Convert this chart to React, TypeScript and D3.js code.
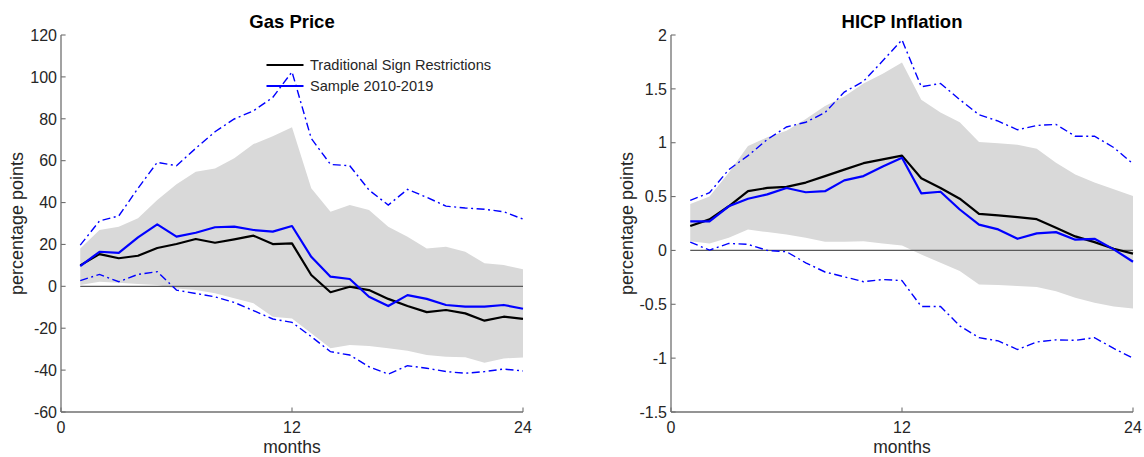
import React from 'react';
import { scaleLinear, line, area } from 'd3';

// horizon, months after the shock
const months = [1, 2, 3, 4, 5, 6, 7, 8, 9, 10, 11, 12, 13, 14, 15, 16, 17, 18, 19, 20, 21, 22, 23, 24];

const gasTicksY = [-60, -40, -20, 0, 20, 40, 60, 80, 100, 120];
const hicpTicksY = [-1.5, -1, -0.5, 0, 0.5, 1, 1.5, 2];
const monthTicks = [0, 12, 24];

const legendLabels = ['Traditional Sign Restrictions', 'Sample 2010-2019'];

// Gas price
const gasTraditional = [10, 15.4, 13.4, 14.6, 18.3, 20.2, 22.6, 20.8, 22.4, 24.2, 20.2, 20.5, 5.4, -2.8, -0.2, -1.8, -6, -9.4, -12.3, -11.3, -12.9, -16.4, -14.5, -15.5];
const gasSample = [9.7, 16.5, 16.0, 23.4, 29.6, 23.7, 25.6, 28.2, 28.5, 26.9, 26.1, 28.8, 14.1, 4.6, 3.5, -5, -9.4, -4.2, -6, -8.9, -9.7, -9.7, -8.9, -10.7];
const gasSampleUpper = [19.7, 31.2, 33.6, 46.8, 59.2, 57.6, 65.9, 73.8, 79.9, 83.8, 90.2, 102.4, 70.6, 58.2, 57.6, 46, 38.8, 46.3, 42.5, 38.3, 37.4, 36.8, 35.6, 32.1];
const gasSampleLower = [2.7, 5.7, 2.2, 5.7, 7, -1.8, -3.4, -5, -7.7, -11.6, -15.6, -17.2, -24, -31.2, -32.8, -38.4, -41.9, -37.9, -39.1, -40.7, -41.5, -40.7, -39.5, -40.4];
const gasBandUpper = [18.1, 26.9, 28.5, 32.5, 41.2, 48.7, 54.7, 56.3, 61.1, 67.9, 71.7, 75.9, 46.8, 35.6, 38.8, 36.4, 28.4, 23.7, 18.1, 18.9, 16.5, 11, 10.2, 8.1];
const gasBandLower = [0.6, 2.2, 1.7, 1.1, 0.6, -1, -1.8, -3.3, -5.7, -8.1, -14.5, -15.3, -22.4, -29.6, -28, -28.5, -29.6, -30.7, -32.8, -33.6, -33.9, -36.5, -34.4, -34];

// HICP inflation
const hicpTraditional = [0.226, 0.288, 0.41, 0.55, 0.58, 0.59, 0.63, 0.69, 0.75, 0.81, 0.845, 0.88, 0.67, 0.58, 0.48, 0.34, 0.325, 0.31, 0.29, 0.21, 0.13, 0.077, 0.016, -0.03];
const hicpSample = [0.27, 0.27, 0.41, 0.48, 0.52, 0.58, 0.54, 0.55, 0.65, 0.69, 0.78, 0.86, 0.53, 0.545, 0.38, 0.24, 0.195, 0.108, 0.158, 0.17, 0.1, 0.108, 0.01, -0.105];
const hicpSampleUpper = [0.465, 0.536, 0.75, 0.88, 1.03, 1.146, 1.19, 1.28, 1.47, 1.57, 1.76, 1.955, 1.52, 1.55, 1.4, 1.26, 1.2, 1.12, 1.16, 1.17, 1.06, 1.06, 0.955, 0.805];
const hicpSampleLower = [0.077, 0.003, 0.065, 0.056, 0, -0.012, -0.115, -0.2, -0.245, -0.29, -0.27, -0.28, -0.52, -0.52, -0.7, -0.81, -0.84, -0.92, -0.85, -0.83, -0.835, -0.81, -0.91, -1.0];
const hicpBandUpper = [0.43, 0.5, 0.72, 0.97, 1.05, 1.11, 1.22, 1.34, 1.43, 1.55, 1.64, 1.745, 1.4, 1.28, 1.19, 1.006, 0.994, 0.98, 0.945, 0.815, 0.706, 0.63, 0.567, 0.505];
const hicpBandLower = [0.086, 0.065, 0.118, 0.195, 0.17, 0.149, 0.118, 0.08, 0.08, 0.086, 0.065, 0.046, -0.037, -0.115, -0.19, -0.316, -0.32, -0.33, -0.34, -0.378, -0.44, -0.486, -0.52, -0.54];

const FONT = '"Liberation Sans", Arial, Helvetica, sans-serif';
const AXIS = '#707070';
const TEXT = '#262626';
const BLUE = '#0000ff';

type PanelProps = {
		title: string;
		left: number;
		yDomain: [number, number];
		yTicks: number[];
		trad: number[];
		sample: number[];
		upper: number[];
		lower: number[];
		bandHi: number[];
		bandLo: number[];
		legend?: boolean;
};

function Panel(props: PanelProps) {
		const top = 35;
		const bottom = 412;
		const w = 462;

		const x = scaleLinear().domain([0, 24]).range([props.left, props.left + w]);
		const y = scaleLinear().domain(props.yDomain).range([bottom, top]);

		const lineFn = (vals: number[]) =>
				line<number>()
						.x((d, i) => x(months[i]))
						.y((d) => y(d))(vals) || '';

		const bandFn = area<number>()
				.x((d, i) => x(months[i]))
				.y0((d, i) => y(props.bandLo[i]))
				.y1((d) => y(d));

		const cx = props.left + w / 2;

		return (
				<g>
						<path d={bandFn(props.bandHi) || ''} fill="#d9d9d9" stroke="none" />
						<line x1={x(months[0])} x2={x(months[months.length - 1])} y1={y(0)} y2={y(0)} stroke="#5a5a5a" strokeWidth={1.3} />

						<path d={lineFn(props.upper)} fill="none" stroke={BLUE} strokeWidth={1.4} strokeDasharray="8,3.5,2,3.5" />
						<path d={lineFn(props.lower)} fill="none" stroke={BLUE} strokeWidth={1.4} strokeDasharray="8,3.5,2,3.5" />
						<path d={lineFn(props.trad)} fill="none" stroke="#000" strokeWidth={2.2} strokeLinejoin="round" />
						<path d={lineFn(props.sample)} fill="none" stroke={BLUE} strokeWidth={2.2} strokeLinejoin="round" />

						{/* axes, box off, ticks inward */}
						<line x1={props.left} x2={props.left} y1={top} y2={bottom} stroke={AXIS} strokeWidth={1.3} />
						<line x1={props.left} x2={props.left + w} y1={bottom} y2={bottom} stroke={AXIS} strokeWidth={1.3} />
						{props.yTicks.map((t) => (
								<g key={'y' + t}>
										<line x1={props.left} x2={props.left + 4.6} y1={y(t)} y2={y(t)} stroke={AXIS} strokeWidth={1.1} />
										<text x={props.left - 4} y={y(t)} dy="0.36em" textAnchor="end" fontSize={16} fill={TEXT} fontFamily={FONT}>
												{String(t)}
										</text>
								</g>
						))}
						{monthTicks.map((t) => (
								<g key={'x' + t}>
										<line x1={x(t)} x2={x(t)} y1={bottom} y2={bottom - 4.6} stroke={AXIS} strokeWidth={1.1} />
										<text x={x(t)} y={433} textAnchor="middle" fontSize={16} fill={TEXT} fontFamily={FONT}>
												{String(t)}
										</text>
								</g>
						))}

						<text x={cx} y={28} textAnchor="middle" fontSize={18.5} fontWeight="bold" fill="#000" fontFamily={FONT}>
								{props.title}
						</text>
						<text x={cx} y={453} textAnchor="middle" fontSize={17.5} fill={TEXT} fontFamily={FONT}>
								months
						</text>
						<text
								transform={'translate(' + (props.left - 38.5) + ',' + (top + bottom) / 2 + ') rotate(-90)'}
								textAnchor="middle"
								fontSize={18}
								fill={TEXT}
								fontFamily={FONT}
						>
								percentage points
						</text>

						{props.legend && (
								<g>
										<line x1={266.5} x2={303.5} y1={65} y2={65} stroke="#000" strokeWidth={2.2} />
										<text x={310} y={65} dy="0.35em" fontSize={14.6} fill={TEXT} fontFamily={FONT}>
												{legendLabels[0]}
										</text>
										<line x1={266.5} x2={303.5} y1={86} y2={86} stroke={BLUE} strokeWidth={2.2} />
										<text x={310} y={86} dy="0.35em" fontSize={14.6} fill={TEXT} fontFamily={FONT}>
												{legendLabels[1]}
										</text>
								</g>
						)}
				</g>
		);
}

export default function App() {
		return (
				<svg width={1144} height={457} style={{ position: 'absolute', left: 0, top: 0, background: '#fff' }}>
						<Panel
								title="Gas Price"
								left={61}
								yDomain={[-60, 120]}
								yTicks={gasTicksY}
								trad={gasTraditional}
								sample={gasSample}
								upper={gasSampleUpper}
								lower={gasSampleLower}
								bandHi={gasBandUpper}
								bandLo={gasBandLower}
								legend
						/>
						<Panel
								title="HICP Inflation"
								left={671}
								yDomain={[-1.5, 2]}
								yTicks={hicpTicksY}
								trad={hicpTraditional}
								sample={hicpSample}
								upper={hicpSampleUpper}
								lower={hicpSampleLower}
								bandHi={hicpBandUpper}
								bandLo={hicpBandLower}
						/>
				</svg>
		);
}
